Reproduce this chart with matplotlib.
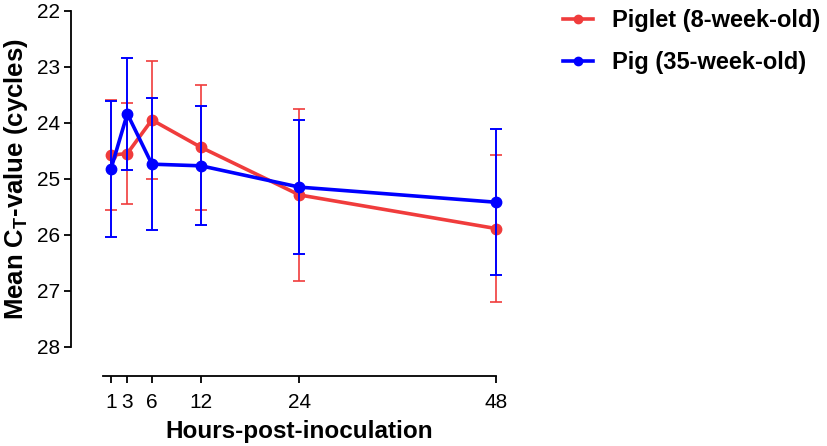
import matplotlib
matplotlib.use("Agg")
import matplotlib.pyplot as plt
from matplotlib.lines import Line2D

plt.rcParams['font.family'] = ['Liberation Sans', 'DejaVu Sans']
plt.rcParams['mathtext.fontset'] = 'custom'
plt.rcParams['mathtext.rm'] = 'Liberation Sans'

hours = [1, 3, 6, 12, 24, 48]
piglet_mean = [24.58, 24.55, 23.95, 24.44, 25.29, 25.89]
piglet_err = [0.98, 0.90, 1.06, 1.12, 1.54, 1.32]
pig_mean = [24.83, 23.84, 24.74, 24.77, 25.15, 25.42]
pig_err = [1.21, 1.00, 1.18, 1.06, 1.20, 1.30]
yticks = [22, 23, 24, 25, 26, 27, 28]
labels = ['Piglet (8-week-old)', 'Pig (35-week-old)']

red = '#f03c3c'
blue = '#0000ff'

fig = plt.figure(figsize=(8.27, 4.46), dpi=100)
ax = fig.add_axes([0.1242, 0.2226, 0.4756, 0.7534])

ax.errorbar(hours, piglet_mean, yerr=piglet_err, color=red, ecolor=red,
            elinewidth=1.2, capsize=4.5, capthick=1.2, lw=2.6, marker='o',
            ms=7.5, clip_on=False, zorder=3)
ax.errorbar(hours, pig_mean, yerr=pig_err, color=blue, ecolor=blue,
            elinewidth=1.4, capsize=4.5, capthick=1.4, lw=2.6, marker='o',
            ms=7.5, clip_on=False, zorder=4)

ax.set_xlim(0, 48)
ax.set_ylim(28, 22)
ax.set_xticks(hours)
ax.set_yticks(yticks)
ax.tick_params(labelsize=15, width=1.3, length=5)
ax.tick_params(axis='x', pad=7)
ax.tick_params(axis='y', pad=3)

for s in ['top', 'right']:
    ax.spines[s].set_visible(False)
ax.spines['left'].set_position(('outward', 23))
ax.spines['bottom'].set_position(('outward', 21))
ax.spines['left'].set_linewidth(1.3)
ax.spines['bottom'].set_linewidth(1.3)

ax.set_xlabel('Hours-post-inoculation', fontsize=17.5, fontweight='bold', labelpad=6)
ax.set_ylabel(r'Mean C$_\mathregular{T}$-value (cycles)', fontsize=18.5,
              fontweight='bold', labelpad=5)

handles = [Line2D([], [], color=red, lw=2.6, marker='o', ms=6),
           Line2D([], [], color=blue, lw=2.6, marker='o', ms=6)]
fig.legend(handles, labels, loc='upper left', bbox_to_anchor=(0.669, 1.0),
           borderaxespad=0, frameon=False, prop={'size': 17, 'weight': 'bold'},
           handlelength=1.3, handletextpad=0.8, labelspacing=0.8)

fig.savefig('out.png', dpi=100)
